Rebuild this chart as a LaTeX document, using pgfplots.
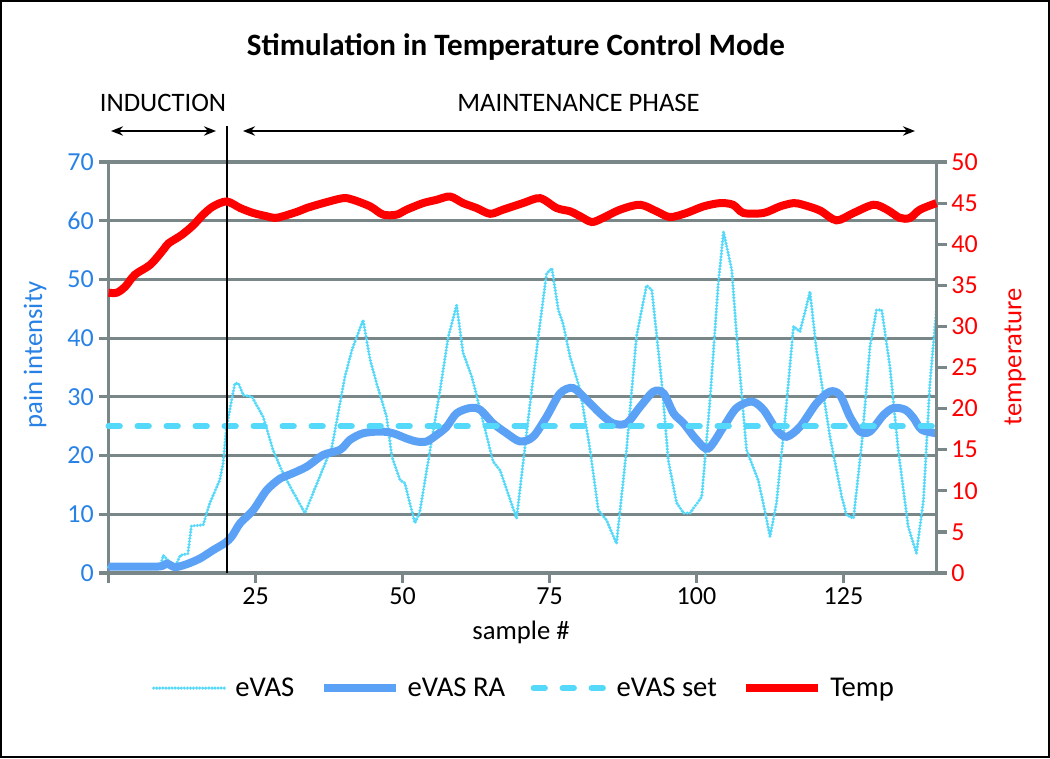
\documentclass[border=0pt]{standalone}
\usepackage{fontspec}
\setmainfont{Carlito}
\usepackage{pgfplots}
\pgfplotsset{compat=1.18}
\usetikzlibrary{arrows.meta}
\definecolor{evas}{RGB}{85,217,250}
\definecolor{evasra}{RGB}{91,161,245}
\definecolor{tempred}{RGB}{255,0,0}
\definecolor{tickblue}{RGB}{40,130,230}
\definecolor{gridgray}{RGB}{122,135,136}
\newcommand{\ff}{\fontsize{19.5}{23}\selectfont}
\newcommand{\fl}{\fontsize{20}{24}\selectfont}
\newcommand{\fleg}{\fontsize{21.5}{25}\selectfont}
\begin{document}
\begin{tikzpicture}
\draw[black,line width=1.5pt] (0.75pt,0.75pt) rectangle (786.75pt,567.75pt);
\begin{axis}[
  at={(81.375pt,138.75pt)}, anchor=south west,
  scale only axis, width=621.15pt, height=308.25pt,
  xmin=0, xmax=140.85, ymin=0, ymax=70,
  clip=false,
  axis x line*=bottom, axis y line*=left,
  axis line style={draw=gridgray,line width=2.4pt},
  ytick={0,10,...,70}, ymajorgrids,
  major grid style={draw=gridgray,line width=2.4pt},
  xtick={0,25,50,75,100,125}, xticklabels={,25,50,75,100,125},
  tick style={draw=gridgray,line width=2.4pt},
  major tick length=7.5pt, tick align=outside,
  /pgf/number format/assume math mode=true,
  ticklabel style={font=\ff},
  yticklabel style={text=tickblue},
  xticklabel style={text=black},
  legend columns=4,
  legend style={at={(0.502,-0.28)}, anchor=center, draw=none, fill=none, font=\fleg,
    /tikz/every odd column/.append style={column sep=4pt},
    /tikz/every even column/.append style={column sep=17pt}},
  legend image code/.code={\draw[#1] (0pt,0pt) -- (54pt,0pt);},
]
\addplot[evas, line width=2.6pt, line cap=round, dash pattern=on 0pt off 2.3pt] coordinates {
(0,1) (8.8,1) (9.3,3) (11.3,1) (12.2,3) (13.5,3.3) (14.1,8) (16.1,8.2) (17.2,11.8) (18.9,15.8) (19.5,18.7) (20.1,25) (20.95,29.5) (21.5,32.3) (22.1,32.3) (22.9,30.3) (24.4,30) (26.3,26.6) (28.0,20.9) (29.5,17.4) (30.9,14.7) (33.4,10.2) (38.0,21.5) (40.2,33.4) (41.4,38) (43.3,43.1) (44.5,36.3) (45.6,32.3) (47.3,26.6) (48.2,19.8) (49.6,15.8) (50.4,15.3) (52.1,8.5) (52.9,10.2) (54.7,21) (56.4,31.2) (57.8,40.3) (59.2,45.6) (60.3,37.5) (61.8,33.4) (63.5,26.6) (65.4,19) (66.6,17.5) (69.4,9.3) (71.7,28.9) (73.1,40.3) (74.5,51) (75.4,51.9) (76.5,44.8) (77.3,42.5) (78.5,36.8) (80.2,31.2) (81.9,21) (83.3,10.7) (84.7,9) (86.4,5) (88.1,21) (89.8,40.3) (91.5,49) (92.4,48.2) (94.1,32.3) (95.2,19.2) (96.6,12) (97.8,10.2) (98.9,10.2) (100.9,13) (102.3,29.5) (103.7,49.3) (104.6,58.1) (106.0,51.6) (106.8,40.8) (108.5,21) (110.5,15.8) (111.6,10.7) (112.5,6.2) (113.6,11.9) (115.1,26.6) (116.5,42) (117.6,41.1) (119.3,47.9) (120.4,38) (122.7,23.2) (124.7,13) (125.5,9.9) (126.7,9.3) (128.1,22) (129.5,38.5) (130.6,44.8) (131.5,44.8) (132.9,35.1) (134.3,21) (136.0,7.9) (137.4,3.4) (138.6,12.4) (139.7,32.3) (140.8,44.8)
};
\addlegendentry{eVAS}
\addplot[evasra, line width=6pt, smooth, tension=0.5] coordinates {
(0,1.1) (8.4,1.1) (9.9,1.6) (11.3,1.0) (13.3,1.5) (15.6,2.5) (17.8,3.9) (19.8,5.1) (20.95,6.2) (22.4,8.5) (24.6,10.7) (26.9,14.1) (29.2,16.1) (30.9,16.8) (33.7,18.1) (36.5,20.1) (39.4,21) (41.1,22.7) (43.3,23.8) (46.2,24.1) (48.4,23.8) (50.7,22.9) (52.4,22.4) (54.1,22.4) (55.8,23.5) (57.5,24.9) (59.2,27.2) (61.5,28.1) (63.2,27.8) (65.4,25.5) (67.7,23.8) (70.0,22.4) (72.2,23.2) (74.5,26.6) (76.8,30.6) (79.0,31.5) (81.3,29.5) (83.6,27.2) (85.8,25.5) (88.1,25.5) (90.4,28.3) (92.7,30.9) (94.4,30.6) (96.1,27.2) (97.8,25.5) (100.0,22.7) (102.0,21.2) (104.6,24.9) (106.8,28.1) (109.4,29.2) (111.4,27.8) (113.6,24.4) (115.3,23.2) (117.6,24.9) (120.4,28.9) (122.7,30.9) (124.4,30.3) (126.1,26.6) (127.8,24.1) (129.5,24.1) (131.8,26.9) (133.5,28.1) (135.5,27.8) (136.9,26.4) (138.3,24.4) (140.8,23.8)
};
\addlegendentry{eVAS RA}
\addplot[evas, line width=4.5pt, line cap=round, dash pattern=on 8.5pt off 13.25pt] coordinates {(0,25) (140.8,25)};
\addlegendentry{eVAS set}
\addlegendimage{tempred, line width=6pt}
\addlegendentry{Temp}
\draw[black, line width=1.5pt] (axis cs:20.1,0) -- (axis cs:20.1,76.1);
\end{axis}
\begin{axis}[
  at={(81.375pt,138.75pt)}, anchor=south west,
  scale only axis, width=621.15pt, height=308.25pt,
  xmin=0, xmax=140.85, ymin=0, ymax=50,
  clip=false,
  axis x line=none, axis y line*=right,
  axis line style={draw=gridgray,line width=2.4pt},
  ytick={0,5,...,50},
  tick style={draw=gridgray,line width=2.4pt},
  major tick length=7.5pt, tick align=outside,
  /pgf/number format/assume math mode=true,
  ticklabel style={font=\ff},
  yticklabel style={text=tempred},
]
\addplot[tempred, line width=6pt, smooth, tension=0.5] coordinates {
(0,34.1) (1.4,34.1) (2.8,34.8) (4.5,36.3) (7.1,37.5) (9.3,39.3) (10.2,40.1) (12.4,41.1) (14.4,42.3) (16.1,43.6) (17.8,44.6) (20.1,45.2) (22.4,44.4) (24.6,43.8) (26.9,43.4) (28.3,43.2) (29.7,43.4) (32.3,44) (33.7,44.4) (36.5,45) (39.9,45.6) (41.6,45.4) (44.5,44.6) (46.7,43.6) (49.0,43.6) (50.7,44.2) (53.5,45) (55.8,45.4) (58.1,45.8) (60.3,45) (62.6,44.4) (64.9,43.7) (67.1,44.2) (70.5,45) (73.4,45.6) (76.2,44.4) (78.5,44) (80.2,43.4) (82.2,42.7) (84.1,43.2) (87.0,44.2) (90.4,44.8) (93.2,44) (95.5,43.3) (98.3,43.8) (101.2,44.6) (104.0,45) (106.2,44.8) (108.0,43.8) (111.4,43.8) (114.2,44.6) (116.5,45) (118.1,44.8) (121.0,44.1) (123.8,42.9) (126.7,43.8) (130.1,44.8) (132.4,44.2) (134.6,43.2) (136.3,43.2) (138.0,44.2) (140.8,45)
};
\end{axis}
\begin{scope}[x=0.75pt,y=-0.75pt,yshift=568.5pt]
\node[font=\fontsize{23.3}{27}\selectfont\bfseries] at (516,47) {Stimulation in Temperature Control Mode};
\node[font=\fl] at (163,103) {INDUCTION};
\node[font=\fl] at (578.5,103) {MAINTENANCE PHASE};
\draw[black,line width=1.5pt,{Stealth[length=9pt,width=7pt]}-{Stealth[length=9pt,width=7pt]}] (111,131) -- (216,131);
\draw[black,line width=1.5pt,{Stealth[length=9pt,width=7pt]}-{Stealth[length=9pt,width=7pt]}] (243,131) -- (915,131);
\node[font=\fl, text=tickblue, rotate=90] at (35,355) {pain intensity};
\node[font=\fl, text=tempred, rotate=90] at (1015,357) {temperature};
\node[font=\fl] at (521,632) {sample \#};
\end{scope}
\end{tikzpicture}
\end{document}
